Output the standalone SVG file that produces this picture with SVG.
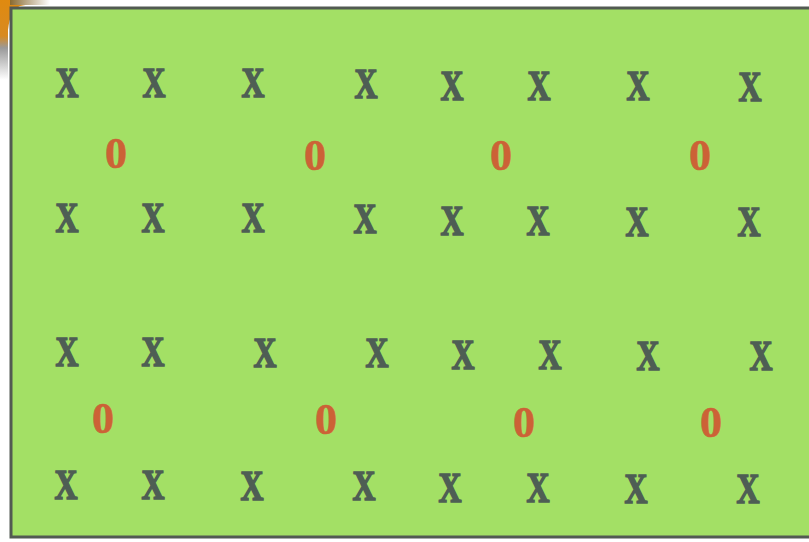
<svg xmlns="http://www.w3.org/2000/svg" width="809" height="542" viewBox="0 0 809 542">
<defs>
<linearGradient id="corner" x1="0" y1="0" x2="0" y2="1">
<stop offset="0" stop-color="#e08a10"/>
<stop offset="0.45" stop-color="#d88a20"/>
<stop offset="0.6" stop-color="#9a9a9a"/>
<stop offset="1" stop-color="#ffffff"/>
</linearGradient>
<linearGradient id="topbar" x1="0" y1="0" x2="1" y2="0">
<stop offset="0" stop-color="#8a6a30"/>
<stop offset="1" stop-color="#ffffff"/>
</linearGradient>
<style>
.x{font-family:"Liberation Serif",serif;font-weight:bold;font-size:43px;fill:#4e5e54;stroke:#4e5e54;stroke-width:1.6px;text-anchor:middle}
.o{font-family:"Liberation Serif",serif;font-weight:bold;font-size:44px;fill:#cc6236;stroke:#cc6236;stroke-width:0.6px;text-anchor:middle}
</style>
</defs>
<rect x="0" y="0" width="809" height="542" fill="#ffffff"/>
<path d="M0,0 H50 Q30,4 20,6 Q10,10 8,30 L8,80 L0,80 Z" fill="url(#corner)"/>
<rect x="10" y="0" width="40" height="5" fill="url(#topbar)"/>
<rect x="11" y="8" width="810" height="529" fill="#a3e065" stroke="#525a52" stroke-width="3"/>
<g id="row1">
<text class="x" x="67" y="97" textLength="23" lengthAdjust="spacingAndGlyphs">X</text>
<text class="x" x="154" y="97" textLength="23" lengthAdjust="spacingAndGlyphs">X</text>
<text class="x" x="253" y="97" textLength="23" lengthAdjust="spacingAndGlyphs">X</text>
<text class="x" x="366" y="98" textLength="23" lengthAdjust="spacingAndGlyphs">X</text>
<text class="x" x="452" y="100" textLength="23" lengthAdjust="spacingAndGlyphs">X</text>
<text class="x" x="539" y="100" textLength="23" lengthAdjust="spacingAndGlyphs">X</text>
<text class="x" x="638" y="100" textLength="23" lengthAdjust="spacingAndGlyphs">X</text>
<text class="x" x="750" y="101" textLength="23" lengthAdjust="spacingAndGlyphs">X</text>
</g>
<g id="row2">
<text class="o" x="116" y="168">0</text>
<text class="o" x="315" y="170">0</text>
<text class="o" x="501" y="170">0</text>
<text class="o" x="700" y="170">0</text>
</g>
<g id="row3">
<text class="x" x="67" y="232" textLength="23" lengthAdjust="spacingAndGlyphs">X</text>
<text class="x" x="153" y="232" textLength="23" lengthAdjust="spacingAndGlyphs">X</text>
<text class="x" x="253" y="232" textLength="23" lengthAdjust="spacingAndGlyphs">X</text>
<text class="x" x="365" y="233" textLength="23" lengthAdjust="spacingAndGlyphs">X</text>
<text class="x" x="452" y="235" textLength="23" lengthAdjust="spacingAndGlyphs">X</text>
<text class="x" x="538" y="235" textLength="23" lengthAdjust="spacingAndGlyphs">X</text>
<text class="x" x="637" y="236" textLength="23" lengthAdjust="spacingAndGlyphs">X</text>
<text class="x" x="749" y="236" textLength="23" lengthAdjust="spacingAndGlyphs">X</text>
</g>
<g id="row4">
<text class="x" x="67" y="366" textLength="23" lengthAdjust="spacingAndGlyphs">X</text>
<text class="x" x="153" y="366" textLength="23" lengthAdjust="spacingAndGlyphs">X</text>
<text class="x" x="265" y="367" textLength="23" lengthAdjust="spacingAndGlyphs">X</text>
<text class="x" x="377" y="367" textLength="23" lengthAdjust="spacingAndGlyphs">X</text>
<text class="x" x="463" y="369" textLength="23" lengthAdjust="spacingAndGlyphs">X</text>
<text class="x" x="550" y="369" textLength="23" lengthAdjust="spacingAndGlyphs">X</text>
<text class="x" x="648" y="370" textLength="23" lengthAdjust="spacingAndGlyphs">X</text>
<text class="x" x="761" y="370" textLength="23" lengthAdjust="spacingAndGlyphs">X</text>
</g>
<g id="row5">
<text class="o" x="103" y="433">0</text>
<text class="o" x="326" y="434">0</text>
<text class="o" x="524" y="437">0</text>
<text class="o" x="711" y="437">0</text>
</g>
<g id="row6">
<text class="x" x="66" y="499" textLength="23" lengthAdjust="spacingAndGlyphs">X</text>
<text class="x" x="153" y="499" textLength="23" lengthAdjust="spacingAndGlyphs">X</text>
<text class="x" x="252" y="500" textLength="23" lengthAdjust="spacingAndGlyphs">X</text>
<text class="x" x="364" y="500" textLength="23" lengthAdjust="spacingAndGlyphs">X</text>
<text class="x" x="450" y="502" textLength="23" lengthAdjust="spacingAndGlyphs">X</text>
<text class="x" x="538" y="502" textLength="23" lengthAdjust="spacingAndGlyphs">X</text>
<text class="x" x="636" y="503" textLength="23" lengthAdjust="spacingAndGlyphs">X</text>
<text class="x" x="748" y="503" textLength="23" lengthAdjust="spacingAndGlyphs">X</text>
</g>
<g id="connectors"></g>
</svg>
